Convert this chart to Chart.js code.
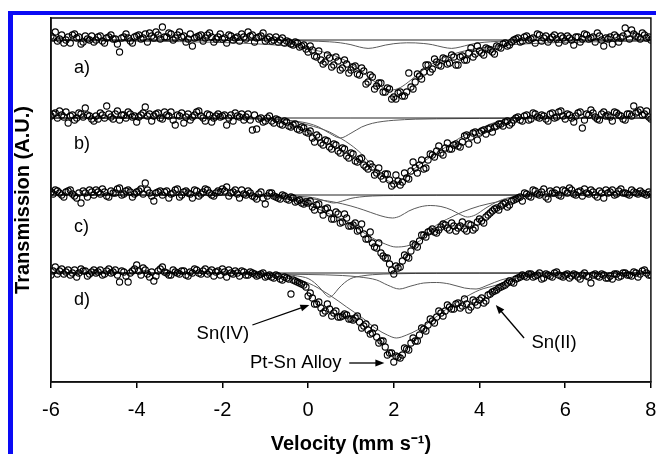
<!DOCTYPE html>
<html>
<head>
<meta charset="utf-8">
<script src="https://cdn.jsdelivr.net/npm/chart.js@4/dist/chart.umd.min.js"></script>
<style>
  html, body { margin: 0; padding: 0; background: #fff; }
  #wrap { position: relative; width: 656px; height: 454px; overflow: hidden; }
  .blue { position: absolute; background: #0a0af5; }
  #topbar { left: 8px; top: 11px; width: 648px; height: 4px; }
  #leftbar { left: 8px; top: 11px; width: 5px; height: 443px; }
  canvas { position: absolute; left: 0; top: 0; }
</style>
</head>
<body>
<div id="wrap">
  <div class="blue" id="topbar"></div>
  <div class="blue" id="leftbar"></div>
  <canvas id="c" width="656" height="454"></canvas>
</div>
<script>
// Velocity channels (mm/s): even channels and the odd channels between them
const velocity = [
  -6.0,-5.9,-5.8,-5.7,-5.6,-5.5,-5.4,-5.3,-5.2,-5.1,
  -5.0,-4.9,-4.8,-4.7,-4.6,-4.5,-4.4,-4.3,-4.2,-4.1,
  -4.0,-3.9,-3.8,-3.7,-3.6,-3.5,-3.4,-3.3,-3.2,-3.1,
  -3.0,-2.9,-2.8,-2.7,-2.6,-2.5,-2.4,-2.3,-2.2,-2.1,
  -2.0,-1.9,-1.8,-1.7,-1.6,-1.5,-1.4,-1.3,-1.2,-1.1,
  -1.0,-0.9,-0.8,-0.7,-0.6,-0.5,-0.4,-0.3,-0.2,-0.1,
  0.0,0.1,0.2,0.3,0.4,0.5,0.6,0.7,0.8,0.9,
  1.0,1.1,1.2,1.3,1.4,1.5,1.6,1.7,1.8,1.9,
  2.0,2.1,2.2,2.3,2.4,2.5,2.6,2.7,2.8,2.9,
  3.0,3.1,3.2,3.3,3.4,3.5,3.6,3.7,3.8,3.9,
  4.0,4.1,4.2,4.3,4.4,4.5,4.6,4.7,4.8,4.9,
  5.0,5.1,5.2,5.3,5.4,5.5,5.6,5.7,5.8,5.9,
  6.0,6.1,6.2,6.3,6.4,6.5,6.6,6.7,6.8,6.9,
  7.0,7.1,7.2,7.3,7.4,7.5,7.6,7.7,7.8,7.9,
  8.0
];
const velocityOdd = [
  -5.95,-5.85,-5.75,-5.65,-5.55,-5.45,-5.35,-5.25,-5.15,-5.05,
  -4.95,-4.85,-4.75,-4.65,-4.55,-4.45,-4.35,-4.25,-4.15,-4.05,
  -3.95,-3.85,-3.75,-3.65,-3.55,-3.45,-3.35,-3.25,-3.15,-3.05,
  -2.95,-2.85,-2.75,-2.65,-2.55,-2.45,-2.35,-2.25,-2.15,-2.05,
  -1.95,-1.85,-1.75,-1.65,-1.55,-1.45,-1.35,-1.25,-1.15,-1.05,
  -0.95,-0.85,-0.75,-0.65,-0.55,-0.45,-0.35,-0.25,-0.15,-0.05,
  0.05,0.15,0.25,0.35,0.45,0.55,0.65,0.75,0.85,0.95,
  1.05,1.15,1.25,1.35,1.45,1.55,1.65,1.75,1.85,1.95,
  2.05,2.15,2.25,2.35,2.45,2.55,2.65,2.75,2.85,2.95,
  3.05,3.15,3.25,3.35,3.45,3.55,3.65,3.75,3.85,3.95,
  4.05,4.15,4.25,4.35,4.45,4.55,4.65,4.75,4.85,4.95,
  5.05,5.15,5.25,5.35,5.45,5.55,5.65,5.75,5.85,5.95,
  6.05,6.15,6.25,6.35,6.45,6.55,6.65,6.75,6.85,6.95,
  7.05,7.15,7.25,7.35,7.45,7.55,7.65,7.75,7.85,7.95
];

// Vertical offsets of the four stacked spectra (A.U.)
const spectrumLabels = ["a)", "b)", "c)", "d)"];
const spectrumOffsets = [342, 264, 187, 109];
const labelPositions = [313.5, 237.5, 154.5, 82]; // y (A.U.) of the a)-d) labels

// Measured transmission relative to each baseline (A.U.), even channels
const specA = [
  4,8,1,-3,3,5,2,-4,4,0,
  -2,3,-1,2,5,1,-12,3,2,-3,
  4,1,6,7,2,5,13,3,6,2,
  8,4,1,-6,3,5,2,7,-2,3,
  1,-3,4,2,-1,3,8,5,2,4,
  -1,3,0,-2,2,-1,-4,-2,-7,-5,
  -12,-10,-17,-20,-22,-18,-25,-21,-28,-24,
  -30,-26,-35,-31,-42,-37,-46,-43,-52,-49,
  -57,-53,-56,-52,-47,-42,-36,-32,-25,-29,
  -22,-26,-19,-23,-17,-25,-16,-20,-8,-14,
  -11,-15,-9,-12,-6,-8,-3,-5,0,2,
  -1,4,1,-3,5,2,-2,3,1,4,
  -1,2,-5,3,1,5,2,-2,4,-6,
  1,-4,3,2,12,1,6,3,7,2,
  0
];
const specB = [
  2,5,7,1,-5,3,0,4,10,2,
  -3,-1,3,12,1,4,-2,3,6,1,
  -4,3,11,4,2,5,-1,3,6,-7,
  2,-5,4,1,6,2,-3,3,0,4,
  2,-7,3,5,1,-2,4,-12,-11,0,
  -3,2,-5,-2,-7,-4,-9,-6,-12,-10,
  -15,-20,-17,-25,-22,-29,-26,-33,-30,-38,
  -35,-43,-41,-47,-51,-49,-55,-58,-56,-62,
  -66,-63,-64,-60,-53,-50,-47,-51,-42,-37,
  -33,-35,-30,-31,-27,-28,-24,-17,-19,-14,
  -15,-12,-11,-14,-8,-6,-4,-7,-2,1,
  -3,3,-1,4,0,2,-3,5,1,7,
  -1,3,-4,5,-10,4,8,1,-2,6,
  3,-3,5,2,-2,4,12,6,3,7,
  -1
];
const specC = [
  3,5,2,-2,4,1,-3,-8,2,5,
  0,3,6,-1,4,2,7,1,5,-2,
  3,6,12,2,-6,3,0,4,1,5,
  -2,3,2,-3,4,1,6,2,-1,4,
  6,8,2,5,-3,1,4,-1,-4,3,
  -9,2,-1,-3,0,-4,-2,-7,-5,-9,
  -8,-12,-10,-15,-14,-18,-24,-19,-27,-23,
  -31,-28,-35,-39,-44,-48,-53,-58,-63,-69,
  -79,-73,-66,-62,-56,-50,-46,-40,-37,-34,
  -38,-32,-30,-35,-31,-33,-27,-36,-30,-33,
  -24,-28,-20,-16,-13,-11,-8,-10,-5,-3,
  -6,1,-2,4,0,6,-4,2,5,-1,
  4,7,1,3,-1,2,5,0,4,-3,
  2,5,1,6,2,0,3,1,2,0,
  1
];
const specD = [
  -2,6,2,-1,3,0,-4,4,2,-1,
  3,1,-2,2,0,3,-9,1,-9,2,
  8,-2,3,-4,-8,2,6,0,-2,1,
  -1,2,-3,0,3,-1,4,1,-3,2,
  4,-4,0,2,-3,1,-2,0,-3,-1,
  -4,-2,-5,-3,-7,-5,-21,-8,-10,-12,
  -23,-25,-31,-35,-38,-36,-40,-44,-43,-42,
  -46,-45,-49,-53,-57,-60,-64,-68,-74,-80,
  -89,-84,-82,-76,-70,-68,-62,-56,-52,-48,
  -44,-40,-38,-34,-36,-30,-33,-31,-34,-29,
  -27,-30,-22,-19,-17,-14,-12,-8,-10,-5,
  -2,-4,-1,-3,0,-5,-2,-4,1,-3,
  -2,-5,-1,-4,-2,-3,-10,-1,-4,-2,
  -5,-6,-1,-3,0,-2,1,-4,2,0,
  -2
];

// Odd channels
const specAOdd = [
  2,-1,5,0,-3,6,3,-2,1,4,
  0,4,-3,3,1,-4,2,6,-1,3,
  5,2,-2,4,8,1,3,7,0,5,
  3,-2,6,2,4,-1,5,3,1,6,
  2,5,0,3,6,1,4,-2,3,7,
  1,-1,3,0,-3,-2,-5,-3,-6,-9,
  -6,-16,-11,-24,-15,-27,-17,-30,-20,-33,
  -27,-34,-28,-44,-35,-49,-43,-52,-48,-59,
  -59,-52,-56,-33,-49,-34,-39,-25,-32,-19,
  -25,-18,-24,-15,-25,-17,-20,-13,-17,-6,
  -13,-8,-10,-14,-7,-4,-6,-2,1,-2,
  3,0,2,6,-1,4,1,5,-3,2,
  4,0,3,-2,6,1,3,7,0,2,
  3,5,-2,4,6,10,4,1,5,3
];
const specBOdd = [
  4,0,3,6,2,-2,5,1,3,-1,
  2,5,0,4,-1,7,3,0,4,2,
  1,5,2,-3,4,0,6,2,-2,3,
  5,1,-2,3,7,0,4,-4,2,1,
  3,0,-3,2,4,1,-2,3,-1,-4,
  0,-3,-1,-6,-3,-8,-7,-11,-9,-14,
  -13,-24,-19,-27,-23,-31,-27,-35,-31,-40,
  -36,-44,-40,-49,-46,-57,-50,-61,-56,-68,
  -57,-67,-55,-61,-44,-55,-42,-50,-36,-39,
  -28,-37,-25,-31,-26,-29,-18,-26,-15,-22,
  -13,-16,-10,-9,-6,-8,-3,-5,0,-2,
  2,-2,5,1,3,-1,4,0,6,2,
  4,0,2,6,-2,3,5,-1,4,2,
  1,6,3,-1,4,2,5,8,4,1
];
const specCOdd = [
  1,4,0,3,5,-1,2,4,-2,3,
  5,1,3,-2,2,6,0,4,3,1,
  4,1,5,-1,2,4,3,-3,2,6,
  0,4,1,5,-1,3,5,0,2,3,
  4,-1,3,1,5,0,2,-2,1,-3,
  -1,2,-2,-4,-1,-5,-3,-6,-8,-7,
  -6,-15,-9,-20,-13,-24,-17,-28,-19,-31,
  -30,-36,-29,-44,-37,-52,-48,-61,-63,-75,
  -71,-72,-60,-63,-49,-52,-40,-42,-36,-37,
  -35,-29,-33,-28,-36,-31,-34,-29,-35,-27,
  -26,-22,-18,-14,-15,-9,-12,-6,-4,-2,
  2,-1,5,1,3,-2,4,2,0,5,
  2,5,0,4,6,1,3,-2,2,5,
  3,0,4,2,1,5,2,4,1,3
];
const specDOdd = [
  2,-1,4,1,-2,3,0,2,-3,1,
  0,3,-1,4,1,-2,2,-3,0,4,
  2,5,-1,1,-3,4,1,-2,3,0,
  2,-2,1,4,0,2,-1,3,1,-2,
  1,3,-1,0,2,-2,1,-1,-2,0,
  -3,-4,-2,-6,-4,-6,-7,-9,-11,-14,
  -20,-31,-29,-40,-31,-43,-38,-44,-41,-46,
  -47,-43,-55,-51,-61,-55,-70,-68,-82,-80,
  -83,-85,-75,-77,-65,-68,-55,-58,-46,-50,
  -38,-43,-32,-36,-31,-35,-26,-37,-27,-32,
  -25,-28,-21,-18,-15,-13,-10,-9,-6,-4,
  -3,-1,-4,-2,-6,-1,-3,0,-2,-4,
  -1,-3,-2,-6,0,-4,-2,-3,-1,-5,
  -3,-1,-4,0,-2,-3,0,-1,3,-2
];

// Fitted curves (velocity / depth pairs, A.U. relative to baseline)
const baseVel = [-6, 8];
const baseDev = [0, 0];

const aSn2Vel = [-6,-3,-1,-0.5,0,0.25,0.5,0.75,1,1.2,1.4,1.6,1.8,2,2.15,2.3,2.5,2.7,2.9,3.15,3.35,3.55,3.75,4,4.25,4.5,5,6,8];
const aSn2Dev = [-0.1,-0.2,-0.4,-0.55,-0.9,-1.3,-1.8,-2.8,-4.7,-7.0,-8.4,-7.2,-5.1,-3.7,-3.1,-2.8,-2.9,-3.5,-4.7,-7.2,-8.4,-7.0,-4.8,-2.8,-1.8,-1.2,-0.7,-0.3,-0.1];
const aAlloyVel = [-6,-3,-1.5,-1,-0.5,0,0.5,0.75,1,1.25,1.5,1.75,1.95,2.15,2.4,2.65,2.9,3.2,3.5,3.8,4.1,4.5,5,6,8];
const aAlloyDev = [-0.6,-1.6,-3.2,-4.3,-5.9,-8.8,-13.9,-18.0,-23.7,-31.2,-40,-47.6,-50,-47.6,-40,-31.2,-23.7,-17.1,-12.6,-9.6,-7.5,-5.5,-4.0,-2.3,-1.1];

const bSn4Vel = [-6,-3,-1.5,-1,-0.5,-0.25,0,0.25,0.5,0.75,1,1.25,1.5,1.75,2,2.5,3,4,5,8];
const bSn4Dev = [-0.1,-0.3,-0.8,-1.2,-2.3,-3.4,-5.3,-9,-15.2,-20,-15.2,-9,-5.3,-3.4,-2.3,-1.2,-0.8,-0.4,-0.2,-0.1];
const bAlloyVel = [-6,-3,-1.5,-1,-0.5,-0.25,0,0.25,0.5,0.75,1,1.25,1.5,1.75,2,2.25,2.5,2.75,3,3.25,3.5,3.75,4,4.25,4.5,4.75,5,6,8];
const bAlloyDev = [0,0,-0.5,-1,-2,-4,-7,-10,-14,-20,-27,-36,-48,-59,-65,-60,-50,-42,-35,-28,-21,-15,-11,-6,-3,-1,0,0,0];

const cSn4Vel = [-6,-2,-1,-0.5,0,0.2,0.4,0.6,0.8,1,1.2,1.5,2,3,8];
const cSn4Dev = [0,-0.15,-0.4,-0.7,-2,-3.4,-6,-8,-6,-3.4,-2,-1,-0.5,-0.2,0];
const cSn2Vel = [-6,-2,-1,-0.5,0,0.3,0.6,1,1.3,1.6,1.8,1.97,2.15,2.35,2.6,2.85,3.1,3.35,3.55,3.72,3.9,4.15,4.45,4.77,5.2,6,8];
const cSn2Dev = [0,-0.5,-1,-2,-3.5,-5,-7,-11,-15,-19.5,-22,-23,-21,-16,-12,-10.5,-11.5,-15,-19.5,-22,-20,-13,-6,-2,-1,0,0];
const cAlloyVel = [-6,-2,-1,-0.5,0,0.5,0.9,1.2,1.5,1.8,2.05,2.3,2.6,2.8,3,3.3,3.6,4,4.4,4.9,5.5,8];
const cAlloyDev = [0,-0.5,-1.5,-4,-10,-19,-27,-35,-43,-49,-52,-51,-46,-38,-30,-23,-17,-11,-7,-2,-1,0];

const dSn4Vel = [-6,-2,-1,-0.5,-0.25,0,0.15,0.3,0.4,0.5,0.6,0.7,0.85,1,1.25,1.5,2,3,5,8];
const dSn4Dev = [0,-0.3,-0.8,-1.7,-3,-5.5,-9.7,-16,-21.3,-24,-21.3,-16,-9.7,-5.5,-3,-1.7,-0.8,-0.3,-0.1,0];
const dSn2Vel = [-6,-2,0,0.8,1.2,1.6,1.85,2.13,2.4,2.7,3,3.3,3.65,3.92,4.2,4.5,4.9,5.3,6,8];
const dSn2Dev = [0,-0.5,-1.5,-2.5,-4,-7,-12,-16,-13,-10,-9.5,-11,-15,-16,-12,-7,-3,-1,0,0];
const dAlloyVel = [-6,-2,-1,-0.5,0,0.5,0.9,1.27,1.6,1.85,2.06,2.3,2.55,2.83,3.2,3.6,4,4.4,4.7,4.95,5.3,6,8];
const dAlloyDev = [0,-0.5,-2,-5,-10,-22,-34,-45,-56,-62,-65,-62,-57,-49,-37,-26,-17,-12,-7,-4,-1.5,-0.5,0];

// Annotations: [text, textVel, textY, arrowFromVel, arrowFromY, arrowToVel, arrowToY]
const annotations = [
  ["Sn(IV)",      -1.99, 48, -1.30, 57, 0.03, 77],
  ["Pt-Sn Alloy", -0.29, 19,  0.96, 19, 1.78, 19],
  ["Sn(II)",       5.74, 39,  5.04, 44, 4.38, 77]
];

const xTicks = [-6, -4, -2, 0, 2, 4, 6, 8];

function pts(vel, dev, off) {
  return vel.map((v, i) => ({ x: v, y: off + dev[i] }));
}

const spectra = [specA, specB, specC, specD];
const spectraOdd = [specAOdd, specBOdd, specCOdd, specDOdd];
const fits = [
  [[aSn2Vel, aSn2Dev], [aAlloyVel, aAlloyDev]],
  [[bSn4Vel, bSn4Dev], [bAlloyVel, bAlloyDev]],
  [[cSn4Vel, cSn4Dev], [cSn2Vel, cSn2Dev], [cAlloyVel, cAlloyDev]],
  [[dSn4Vel, dSn4Dev], [dSn2Vel, dSn2Dev], [dAlloyVel, dAlloyDev]]
];

const datasets = [];
const pointStyle = {
  type: 'scatter',
  pointStyle: 'circle',
  pointRadius: 3.1,
  pointBorderWidth: 1.1,
  borderColor: '#000',
  backgroundColor: 'rgba(255,255,255,0)',
  showLine: false
};
spectra.forEach((s, k) => {
  const merged = pts(velocity, s, spectrumOffsets[k])
    .concat(pts(velocityOdd, spectraOdd[k], spectrumOffsets[k]))
    .sort((p, q) => p.x - q.x);
  datasets.push(Object.assign({ data: merged }, pointStyle));
});
spectra.forEach((s, k) => {
  datasets.push({
    type: 'line',
    data: pts(baseVel, baseDev, spectrumOffsets[k]),
    borderColor: '#222',
    borderWidth: 1,
    pointRadius: 0,
    fill: false
  });
  fits[k].forEach(([v, d]) => {
    datasets.push({
      type: 'line',
      data: pts(v, d, spectrumOffsets[k]),
      borderColor: '#5a5a5a',
      borderWidth: 1,
      pointRadius: 0,
      fill: false,
      cubicInterpolationMode: 'monotone'
    });
  });
});

const FONT = '"Liberation Sans", Arial, sans-serif';

const decor = {
  id: 'decor',
  afterDraw(chart) {
    const { ctx, chartArea: a, scales: { x, y } } = chart;
    ctx.save();
    ctx.strokeStyle = '#111';
    ctx.lineWidth = 1.5;
    ctx.strokeRect(a.left, a.top, a.right - a.left, a.bottom - a.top);

    ctx.fillStyle = '#000';
    ctx.font = '18px ' + FONT;
    ctx.textBaseline = 'middle';
    ctx.textAlign = 'left';
    spectrumLabels.forEach((t, k) => {
      ctx.fillText(t, x.getPixelForValue(-5.465), y.getPixelForValue(labelPositions[k]));
    });

    ctx.font = '18.5px ' + FONT;
    ctx.textAlign = 'center';
    annotations.forEach(([t, tv, ty, fv, fy, av, ay]) => {
      ctx.fillText(t, x.getPixelForValue(tv), y.getPixelForValue(ty));
      const x1 = x.getPixelForValue(fv), y1 = y.getPixelForValue(fy);
      const x2 = x.getPixelForValue(av), y2 = y.getPixelForValue(ay);
      const ang = Math.atan2(y2 - y1, x2 - x1);
      const hl = 9, hw = 3.5;
      ctx.strokeStyle = '#000';
      ctx.lineWidth = 1.3;
      ctx.beginPath();
      ctx.moveTo(x1, y1);
      ctx.lineTo(x2 - Math.cos(ang) * hl * 0.8, y2 - Math.sin(ang) * hl * 0.8);
      ctx.stroke();
      ctx.beginPath();
      ctx.moveTo(x2, y2);
      ctx.lineTo(x2 - Math.cos(ang) * hl - Math.sin(ang) * hw, y2 - Math.sin(ang) * hl + Math.cos(ang) * hw);
      ctx.lineTo(x2 - Math.cos(ang) * hl + Math.sin(ang) * hw, y2 - Math.sin(ang) * hl - Math.cos(ang) * hw);
      ctx.closePath();
      ctx.fill();
    });
    ctx.restore();
  }
};

new Chart(document.getElementById('c'), {
  data: { datasets },
  options: {
    responsive: false,
    animation: false,
    devicePixelRatio: 1,
    events: [],
    layout: { padding: { top: 18, right: 4, left: 0, bottom: 0 } },
    plugins: { legend: { display: false }, tooltip: { enabled: false } },
    scales: {
      x: {
        type: 'linear',
        min: -6, max: 8,
        afterBuildTicks: s => { s.ticks = xTicks.map(v => ({ value: v })); },
        afterFit: s => { s.height = 72; s.paddingLeft = 0; s.paddingRight = 0; },
        ticks: { color: '#000', font: { family: FONT, size: 20 }, padding: 10, maxRotation: 0 },
        grid: { display: true, drawOnChartArea: false, drawTicks: true, tickLength: 6, color: '#000', lineWidth: 1.5 },
        border: { display: true, color: '#111', width: 1.5 },
        title: { display: true, text: 'Velocity (mm s\u207B\u00B9)', color: '#000',
                 font: { family: FONT, size: 20, weight: 'bold', lineHeight: 1.0 }, padding: { top: 0, bottom: 0 } }
      },
      y: {
        type: 'linear',
        min: 0, max: 364,
        afterFit: s => { s.width = 51; },
        ticks: { display: false },
        grid: { display: false },
        border: { display: true, color: '#111', width: 1.5 },
        title: { display: true, text: 'Transmission (A.U.)', color: '#000',
                 font: { family: FONT, size: 20, weight: 'bold' }, padding: { top: 11, bottom: 0 } }
      }
    }
  },
  plugins: [decor]
});
</script>
</body>
</html>
